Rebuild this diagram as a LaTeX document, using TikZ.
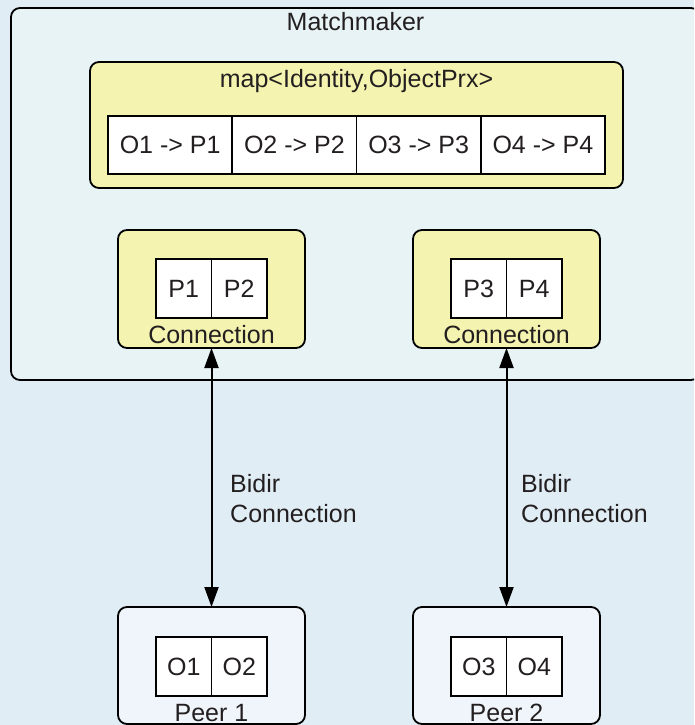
\documentclass[tikz,border=0pt]{standalone}
\usepackage{fontspec}
\setmainfont{Liberation Sans}
\usetikzlibrary{positioning,arrows.meta}

\definecolor{bgblue}{HTML}{E1EDF5}
\definecolor{mmfill}{HTML}{E7F3F4}
\definecolor{connyellow}{HTML}{F4F4B0}
\definecolor{peerfill}{HTML}{EFF5FA}
\definecolor{textgray}{HTML}{231F20}

\tikzset{
  box/.style={draw, line width=1.8pt, rounded corners=9pt, inner sep=0pt, outer sep=0pt, anchor=north west},
  cell/.style={draw, fill=white, line width=1.8pt, minimum height=58pt, inner sep=0pt, outer sep=0pt, text=textgray},
  lbl/.style={text=textgray, anchor=base, inner sep=0pt},
  link/.style={line width=2pt, {Triangle[length=20pt,width=14pt]}-{Triangle[length=20pt,width=14pt]}},
}

\begin{document}
\begin{tikzpicture}[x=1pt, y=-1pt, font=\fontsize{25}{30}\selectfont]
    % Sfondo e ritaglio
    \fill[bgblue] (0,0) rectangle (694,725);
    \clip (0,0) rectangle (694,725);

    % Matchmaker
    \node[box, fill=mmfill, minimum width=689pt, minimum height=372pt] (mm) at (11,8) {};
    \node[lbl] (mmlbl) at (355.5,31) {Matchmaker};

    % Mappa delle identita'
    \node[box, fill=connyellow, minimum width=533pt, minimum height=126pt] (map) at (90,62) {};
    \node[lbl] (maplbl) at (356.5,87) {map<Identity,ObjectPrx>};
    \node[cell, minimum width=124.25pt, anchor=north west] (m1) at (108,116) {O1 -> P1};
    \node[cell, minimum width=124.25pt, right=0pt of m1] (m2) {O2 -> P2};
    \node[cell, minimum width=124.25pt, right=0pt of m2] (m3) {O3 -> P3};
    \node[cell, minimum width=124.25pt, right=0pt of m3] (m4) {O4 -> P4};

    % Connessioni lato server
    \node[box, fill=connyellow, minimum width=187pt, minimum height=118pt] (conn1) at (118,230) {};
    \node[cell, minimum width=55.5pt, minimum height=59pt, anchor=north west] (p1) at (156,259) {P1};
    \node[cell, minimum width=55.5pt, minimum height=59pt, right=0pt of p1] (p2) {P2};
    \node[lbl] (conn1lbl) at (211.5,343) {Connection};

    \node[box, fill=connyellow, minimum width=187pt, minimum height=118pt] (conn2) at (413,230) {};
    \node[cell, minimum width=55.5pt, minimum height=59pt, anchor=north west] (p3) at (451,259) {P3};
    \node[cell, minimum width=55.5pt, minimum height=59pt, right=0pt of p3] (p4) {P4};
    \node[lbl] (conn2lbl) at (506.5,343) {Connection};

    % Peer
    \node[box, fill=peerfill, minimum width=187pt, minimum height=117pt] (peer1) at (118,607) {};
    \node[cell, minimum width=55.5pt, minimum height=59pt, anchor=north west] (o1) at (156,637) {O1};
    \node[cell, minimum width=55.5pt, minimum height=59pt, right=0pt of o1] (o2) {O2};
    \node[lbl] (peer1lbl) at (211.5,721) {Peer 1};

    \node[box, fill=peerfill, minimum width=187pt, minimum height=117pt] (peer2) at (413,607) {};
    \node[cell, minimum width=55.5pt, minimum height=59pt, anchor=north west] (o3) at (451,637) {O3};
    \node[cell, minimum width=55.5pt, minimum height=59pt, right=0pt of o3] (o4) {O4};
    \node[lbl] (peer2lbl) at (506.5,721) {Peer 2};

    % Collegamenti bidirezionali
    \draw[link] (conn1.south) -- (peer1.north);
    \draw[link] (conn2.south) -- (peer2.north);
    \node[text=textgray, align=left, anchor=west, inner sep=0pt] (bidir1) at (230,499) {Bidir\\Connection};
    \node[text=textgray, align=left, anchor=west, inner sep=0pt] (bidir2) at (521,499) {Bidir\\Connection};
\end{tikzpicture}
\end{document}
